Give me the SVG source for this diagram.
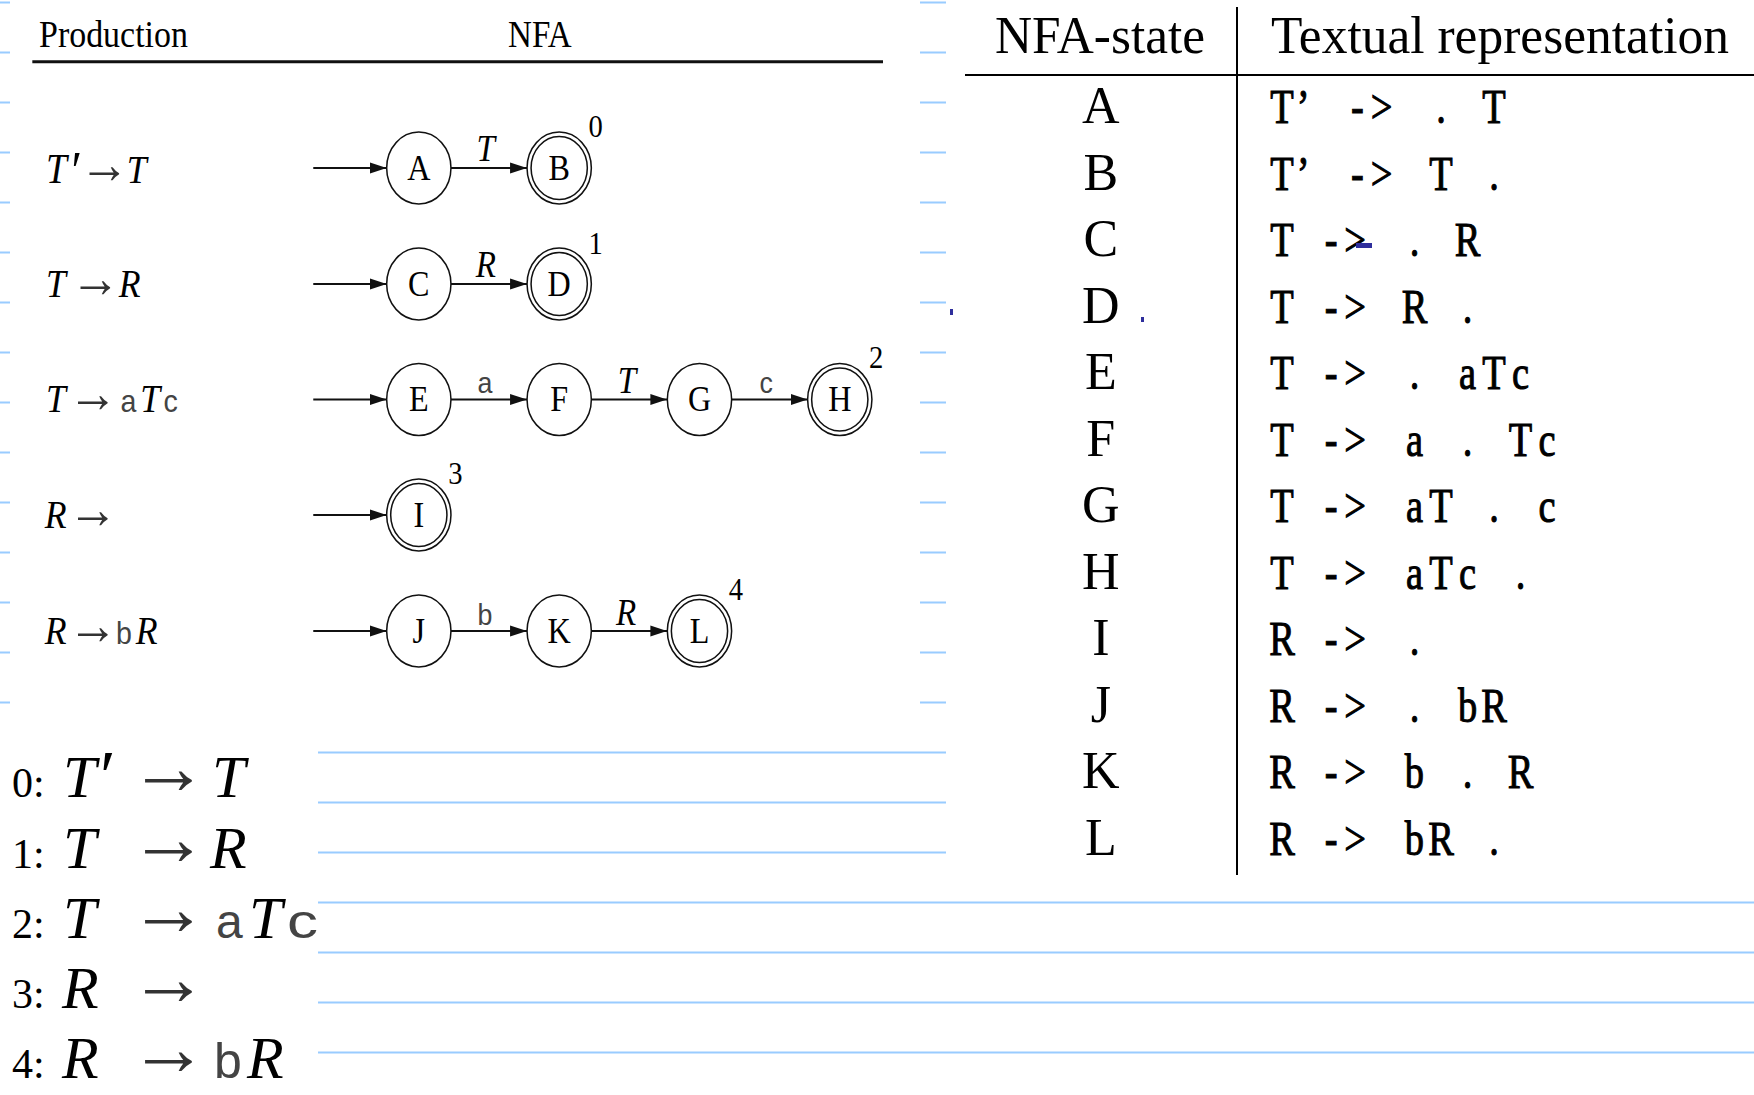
<svg xmlns="http://www.w3.org/2000/svg" width="1754" height="1095" viewBox="0 0 1754 1095">
  <style>
    .rule { stroke: #99ccff; stroke-width: 2; }
    .serif { font-family: "Liberation Serif", "Times New Roman", serif; fill: #000; }
    .ital { font-family: "Liberation Serif", "Times New Roman", serif; font-style: italic; fill: #000; }
    .sans { font-family: "Liberation Sans", Arial, sans-serif; fill: #444; }
    .arr { font-family: "Liberation Serif", "Times New Roman", serif; fill: #333; }
    .state { fill: none; stroke: #111; stroke-width: 1.7; }
    .edge { stroke: #111; stroke-width: 2; fill: none; marker-end: url(#head); }
    .lbl { font-family: "Liberation Serif", "Times New Roman", serif; font-size: 36px; text-anchor: middle; fill: #000; }
    .acc { font-family: "Liberation Serif", "Times New Roman", serif; font-size: 32px; text-anchor: middle; fill: #000; }
    .tt { font-family: "Liberation Serif", "Times New Roman", serif; font-size: 48px; text-anchor: middle; fill: #000; stroke: #000; stroke-width: 1; }
    .hdr { font-family: "Liberation Serif", "Times New Roman", serif; font-size: 53px; fill: #000; }
    .ink { fill: #2e2e9c; }
  </style>
  <defs>
    <marker id="head" markerUnits="userSpaceOnUse" markerWidth="19" markerHeight="12" refX="19" refY="6" orient="auto">
      <path d="M0 0.5 L19 6 L0 11.5 Z" fill="#111"/>
    </marker>
  </defs>

  <rect width="1754" height="1095" fill="#fff"/>

  <!-- ruled-paper margins and lines -->
  <g id="ruling">
    <path class="rule" d="M0 2.5H10M0 52.5H10M0 102.5H10M0 152.5H10M0 202.5H10M0 252.5H10M0 302.5H10M0 352.5H10M0 402.5H10M0 452.5H10M0 502.5H10M0 552.5H10M0 602.5H10M0 652.5H10M0 702.5H10"/>
    <path class="rule" d="M920 2.5H946M920 52.5H946M920 102.5H946M920 152.5H946M920 202.5H946M920 252.5H946M920 302.5H946M920 352.5H946M920 402.5H946M920 452.5H946M920 502.5H946M920 552.5H946M920 602.5H946M920 652.5H946M920 702.5H946"/>
    <path class="rule" d="M318 752.5H946M318 802.5H946M318 852.5H946M318 902.5H1754M318 952.5H1754M318 1002.5H1754M318 1052.5H1754"/>
  </g>

  <!-- production / NFA figure (horizontally condensed) -->
  <g id="nfa-figure" transform="scale(0.893 1)">
    <g id="figure-header">
      <text class="serif" x="43.7" y="47.5" font-size="38">Production</text>
      <text class="serif" x="569" y="47" font-size="37">NFA</text>
      <line x1="36.2" y1="61.7" x2="988.8" y2="61.7" stroke="#111" stroke-width="3"/>
    </g>

    <g id="productions" font-size="40">
      <g id="prod-0">
        <text class="ital" x="51.5" y="182.7" font-size="42">T</text>
        <text class="serif" x="80" y="189" font-size="54">′</text>
        <text class="arr" x="89" y="182.7" font-size="56">→</text>
        <text class="ital" x="142" y="182.7">T</text>
      </g>
      <g id="prod-1">
        <text class="ital" x="51.5" y="296.7">T</text>
        <text class="arr" x="79" y="296.7" font-size="56">→</text>
        <text class="ital" x="133" y="296.7">R</text>
      </g>
      <g id="prod-2">
        <text class="ital" x="51.5" y="411.7">T</text>
        <text class="arr" x="76.2" y="411.7" font-size="56">→</text>
        <text class="sans" x="135" y="411.7" font-size="32">a</text>
        <text class="ital" x="157" y="411.7">T</text>
        <text class="sans" x="183" y="411.7" font-size="32">c</text>
      </g>
      <g id="prod-3">
        <text class="ital" x="50" y="528.3">R</text>
        <text class="arr" x="76.2" y="528.3" font-size="56">→</text>
      </g>
      <g id="prod-4">
        <text class="ital" x="50" y="644">R</text>
        <text class="arr" x="76.2" y="644" font-size="56">→</text>
        <text class="sans" x="130" y="644" font-size="32">b</text>
        <text class="ital" x="152" y="644">R</text>
      </g>
    </g>

    <!-- transitions -->
    <g id="connectors">
      <line class="edge" x1="350.8" y1="168" x2="433" y2="168"/>
      <line class="edge" x1="505" y1="168" x2="590.2" y2="168"/>
      <line class="edge" x1="350.8" y1="284" x2="433" y2="284"/>
      <line class="edge" x1="505" y1="284" x2="590.2" y2="284"/>
      <line class="edge" x1="350.8" y1="399.5" x2="433" y2="399.5"/>
      <line class="edge" x1="505" y1="399.5" x2="590.2" y2="399.5"/>
      <line class="edge" x1="662.2" y1="399.5" x2="747.3" y2="399.5"/>
      <line class="edge" x1="819.3" y1="399.5" x2="904.4" y2="399.5"/>
      <line class="edge" x1="350.8" y1="515" x2="433" y2="515"/>
      <line class="edge" x1="350.8" y1="631" x2="433" y2="631"/>
      <line class="edge" x1="505" y1="631" x2="590.2" y2="631"/>
      <line class="edge" x1="662.2" y1="631" x2="747.3" y2="631"/>

      <text class="ital" x="544" y="161" font-size="37" text-anchor="middle">T</text>
      <text class="ital" x="544" y="276.7" font-size="37" text-anchor="middle">R</text>
      <text class="sans" x="543" y="392.7" font-size="30" text-anchor="middle">a</text>
      <text class="ital" x="702" y="392.7" font-size="37" text-anchor="middle">T</text>
      <text class="sans" x="858" y="392.7" font-size="30" text-anchor="middle">c</text>
      <text class="sans" x="543" y="625" font-size="30" text-anchor="middle">b</text>
      <text class="ital" x="701" y="625" font-size="37" text-anchor="middle">R</text>
    </g>

    <!-- states -->
    <g id="node-A"><circle class="state" cx="469" cy="168" r="36"/><text class="lbl" x="469" y="180">A</text></g>
    <g id="node-B"><circle class="state" cx="626.2" cy="168" r="36"/><circle class="state" cx="626.2" cy="168" r="31.5"/><text class="lbl" x="626.2" y="180">B</text><text class="acc" x="667" y="137">0</text></g>
    <g id="node-C"><circle class="state" cx="469" cy="284" r="36"/><text class="lbl" x="469" y="296">C</text></g>
    <g id="node-D"><circle class="state" cx="626.2" cy="284" r="36"/><circle class="state" cx="626.2" cy="284" r="31.5"/><text class="lbl" x="626.2" y="296">D</text><text class="acc" x="667" y="254">1</text></g>
    <g id="node-E"><circle class="state" cx="469" cy="399.5" r="36"/><text class="lbl" x="469" y="411.5">E</text></g>
    <g id="node-F"><circle class="state" cx="626.2" cy="399.5" r="36"/><text class="lbl" x="626.2" y="411.5">F</text></g>
    <g id="node-G"><circle class="state" cx="783.3" cy="399.5" r="36"/><text class="lbl" x="783.3" y="411.5">G</text></g>
    <g id="node-H"><circle class="state" cx="940.4" cy="399.5" r="36"/><circle class="state" cx="940.4" cy="399.5" r="31.5"/><text class="lbl" x="940.4" y="411.5">H</text><text class="acc" x="981" y="368">2</text></g>
    <g id="node-I"><circle class="state" cx="469" cy="515" r="36"/><circle class="state" cx="469" cy="515" r="31.5"/><text class="lbl" x="469" y="527">I</text><text class="acc" x="510" y="484">3</text></g>
    <g id="node-J"><circle class="state" cx="469" cy="631" r="36"/><text class="lbl" x="469" y="643">J</text></g>
    <g id="node-K"><circle class="state" cx="626.2" cy="631" r="36"/><text class="lbl" x="626.2" y="643">K</text></g>
    <g id="node-L"><circle class="state" cx="783.3" cy="631" r="36"/><circle class="state" cx="783.3" cy="631" r="31.5"/><text class="lbl" x="783.3" y="643">L</text><text class="acc" x="824" y="600">4</text></g>
  </g>

  <!-- numbered grammar -->
  <g id="grammar">
    <g id="rule-0">
      <text class="serif" x="12" y="797" font-size="42">0:</text>
      <text class="ital" x="63" y="797" font-size="60">T</text>
      <text class="serif" x="100" y="800" font-size="72">′</text>
      <text class="arr" x="129" y="794" font-size="79">→</text>
      <text class="ital" x="212" y="797" font-size="60">T</text>
    </g>
    <g id="rule-1">
      <text class="serif" x="12" y="868" font-size="42">1:</text>
      <text class="ital" x="63" y="868" font-size="60">T</text>
      <text class="arr" x="129" y="865" font-size="79">→</text>
      <text class="ital" x="210" y="868" font-size="60">R</text>
    </g>
    <g id="rule-2">
      <text class="serif" x="12" y="938" font-size="42">2:</text>
      <text class="ital" x="63" y="938" font-size="60">T</text>
      <text class="arr" x="129" y="935" font-size="79">→</text>
      <text class="sans" x="216" y="938" font-size="48">a</text>
      <text class="ital" x="249" y="938" font-size="60">T</text>
      <text class="sans" x="287" y="938" font-size="48" textLength="31" lengthAdjust="spacingAndGlyphs">c</text>
    </g>
    <g id="rule-3">
      <text class="serif" x="12" y="1008" font-size="42">3:</text>
      <text class="ital" x="62" y="1008" font-size="60">R</text>
      <text class="arr" x="129" y="1005" font-size="79">→</text>
    </g>
    <g id="rule-4">
      <text class="serif" x="12" y="1078" font-size="42">4:</text>
      <text class="ital" x="62" y="1078" font-size="60">R</text>
      <text class="arr" x="129" y="1075" font-size="79">→</text>
      <text class="sans" x="214" y="1078" font-size="50">b</text>
      <text class="ital" x="247" y="1078" font-size="60">R</text>
    </g>
  </g>

  <!-- state / item table -->
  <g id="item-table">
    <text class="hdr" x="995" y="53.3" textLength="210" lengthAdjust="spacingAndGlyphs">NFA-state</text>
    <text class="hdr" x="1271" y="53.3" textLength="458" lengthAdjust="spacingAndGlyphs">Textual representation</text>
    <line x1="965" y1="75" x2="1754" y2="75" stroke="#000" stroke-width="2.2"/>
    <line x1="1237" y1="7" x2="1237" y2="875" stroke="#000" stroke-width="2"/>

    <g id="state-names" class="serif" font-size="52" text-anchor="middle">
      <text x="1100.8" y="123.3">A</text>
      <text x="1100.8" y="189.8">B</text>
      <text x="1100.8" y="256.3">C</text>
      <text x="1100.8" y="322.8">D</text>
      <text x="1100.8" y="389.3">E</text>
      <text x="1100.8" y="455.8">F</text>
      <text x="1100.8" y="522.3">G</text>
      <text x="1100.8" y="588.8">H</text>
      <text x="1100.8" y="655.3">I</text>
      <text x="1100.8" y="721.8">J</text>
      <text x="1100.8" y="788.3">K</text>
      <text x="1100.8" y="854.8">L</text>
    </g>

    <!-- items set on a fixed 26.5px character grid, glyphs narrowed; "->" sits slightly left of the grid -->
    <g id="items" class="tt" transform="scale(0.8 1)">
      <text x="1602.5 1628.8 1668.8 1696.9 1727 1768.1 1801.3 1834.4 1867.5 1900.6 1933.8" y="123.3">T’ -&gt; . T</text>
      <text x="1602.5 1628.8 1668.8 1696.9 1727 1768.1 1801.3 1834.4 1867.5 1900.6 1933.8" y="189.8">T’ -&gt; T .</text>
      <text x="1602.5 1635.6 1663.8 1693.8 1735 1768.1 1801.3 1834.4 1867.5 1900.6 1933.8" y="256.3">T -&gt; . R</text>
      <text x="1602.5 1635.6 1663.8 1693.8 1735 1768.1 1801.3 1834.4 1867.5 1900.6 1933.8" y="322.8">T -&gt; R .</text>
      <text x="1602.5 1635.6 1663.8 1693.8 1735 1768.1 1801.3 1834.4 1867.5 1900.6 1933.8" y="389.3">T -&gt; . aTc</text>
      <text x="1602.5 1635.6 1663.8 1693.8 1735 1768.1 1801.3 1834.4 1867.5 1900.6 1933.8" y="455.8">T -&gt; a . Tc</text>
      <text x="1602.5 1635.6 1663.8 1693.8 1735 1768.1 1801.3 1834.4 1867.5 1900.6 1933.8" y="522.3">T -&gt; aT . c</text>
      <text x="1602.5 1635.6 1663.8 1693.8 1735 1768.1 1801.3 1834.4 1867.5 1900.6 1933.8" y="588.8">T -&gt; aTc .</text>
      <text x="1602.5 1635.6 1663.8 1693.8 1735 1768.1 1801.3 1834.4 1867.5 1900.6 1933.8" y="655.3">R -&gt; .</text>
      <text x="1602.5 1635.6 1663.8 1693.8 1735 1768.1 1801.3 1834.4 1867.5 1900.6 1933.8" y="721.8">R -&gt; . bR</text>
      <text x="1602.5 1635.6 1663.8 1693.8 1735 1768.1 1801.3 1834.4 1867.5 1900.6 1933.8" y="788.3">R -&gt; b . R</text>
      <text x="1602.5 1635.6 1663.8 1693.8 1735 1768.1 1801.3 1834.4 1867.5 1900.6 1933.8" y="854.8">R -&gt; bR .</text>
    </g>

    <!-- stray pen marks -->
    <rect class="ink" x="1356" y="243" width="16" height="5"/>
    <rect class="ink" x="1141" y="317" width="3" height="5"/>
    <rect class="ink" x="950" y="309" width="3" height="6"/>
  </g>
</svg>
